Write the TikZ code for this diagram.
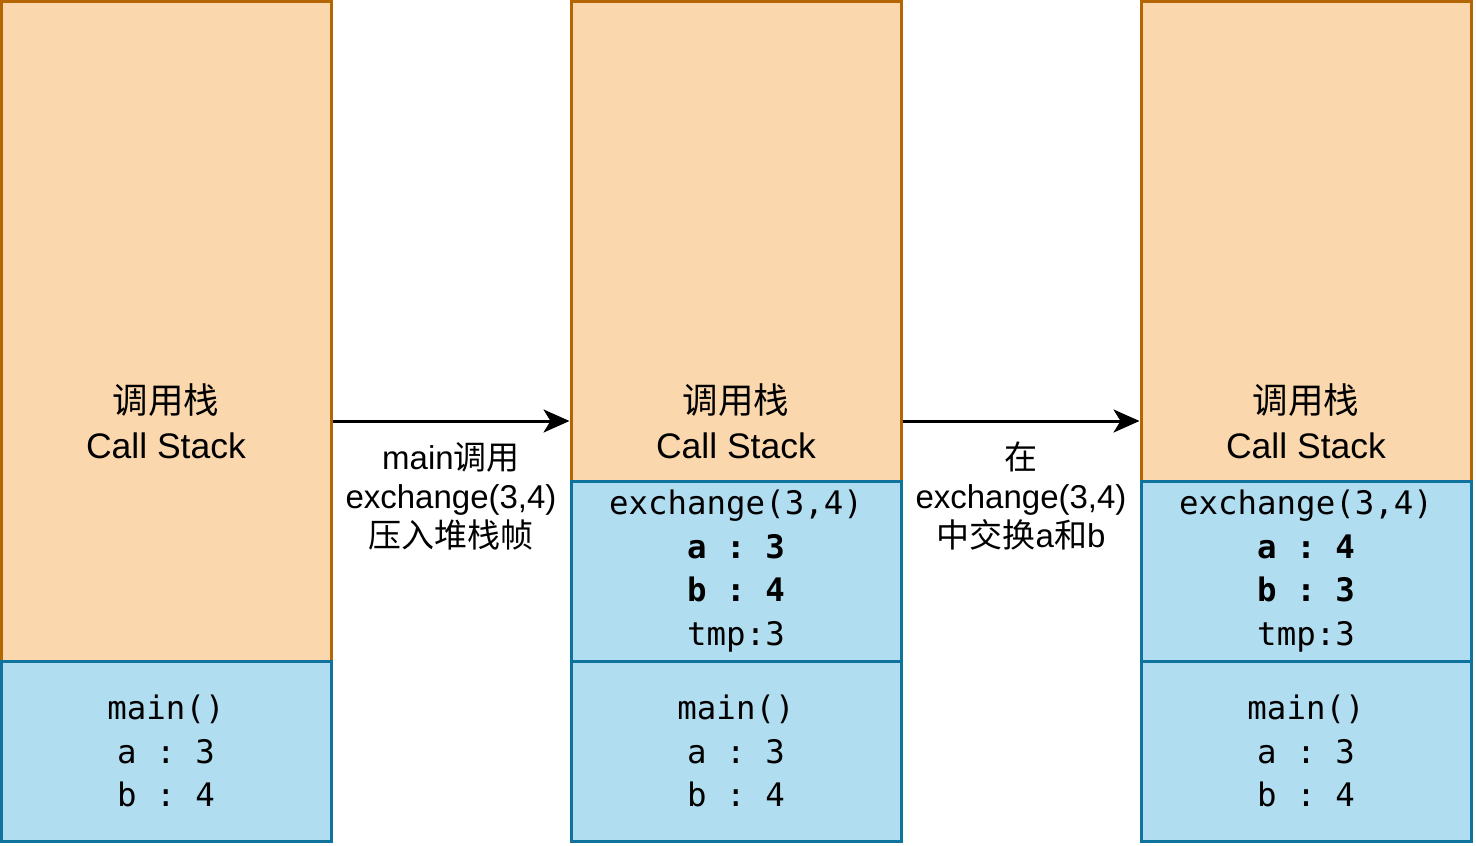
\documentclass[tikz,border=0pt]{standalone}
\usepackage{fontspec}
\setmainfont{Liberation Sans}
\setmonofont{DejaVu Sans Mono}
\newfontfamily\cjk{Noto Sans CJK SC}
\usetikzlibrary {positioning}
\usetikzlibrary {arrows.meta}

\definecolor{stackfill}{HTML}{FAD7AC}
\definecolor{stackline}{HTML}{B46504}
\definecolor{framefill}{HTML}{B1DDF0}
\definecolor{frameline}{HTML}{10739E}

\tikzset{
  stackbox/.style={draw=stackline, fill=stackfill, line width=3pt,
    minimum width=330pt, minimum height=840pt, inner sep=0pt, align=center,
    font=\fontsize{35.5}{45}\selectfont},
  framebox/.style={draw=frameline, fill=framefill, line width=3pt,
    minimum width=330pt, minimum height=180pt, inner sep=0pt, align=center,
    font=\ttfamily\fontsize{32.4}{43.5}\selectfont},
  flow/.style={-{Stealth[length=26pt, width=23pt, inset=7pt]}, line width=3pt},
  steplabel/.style={align=center, font=\fontsize{33}{39}\selectfont}
}

\begin{document}
\begin{tikzpicture}[x=1pt, y=-1pt]
            \useasboundingbox (0,0) rectangle (1476,846);

            % the three call stacks
            \node[stackbox] (col1) at (166,421) {{\cjk 调用栈}\\Call Stack};
            \node[stackbox] (col2) at (736,421) {{\cjk 调用栈}\\Call Stack};
            \node[stackbox] (col3) at (1306,421) {{\cjk 调用栈}\\Call Stack};

            % stack frames
            \node[framebox] (main1) at (166,751) {main()\\a : 3\\b : 4};
            \node[framebox] (main2) at (736,751) {main()\\a : 3\\b : 4};
            \node[framebox] (main3) at (1306,751) {main()\\a : 3\\b : 4};
            \node[framebox] (exch2) at (736,571) {exchange(3,4)\\\textbf{a : 3}\\\textbf{b : 4}\\tmp:3};
            \node[framebox] (exch3) at (1306,571) {exchange(3,4)\\\textbf{a : 4}\\\textbf{b : 3}\\tmp:3};

            \draw[flow] (col1.east) -- (col2.west)
              node[steplabel, midway, yshift=-75pt] (push) {main{\cjk 调用}\\exchange(3,4)\\{\cjk 压入堆栈帧}};
            \draw[flow] (col2.east) -- (col3.west)
              node[steplabel, midway, yshift=-75pt] (swap) {{\cjk 在}\\exchange(3,4)\\{\cjk 中交换}a{\cjk 和}b};
        \end{tikzpicture}
\end{document}
